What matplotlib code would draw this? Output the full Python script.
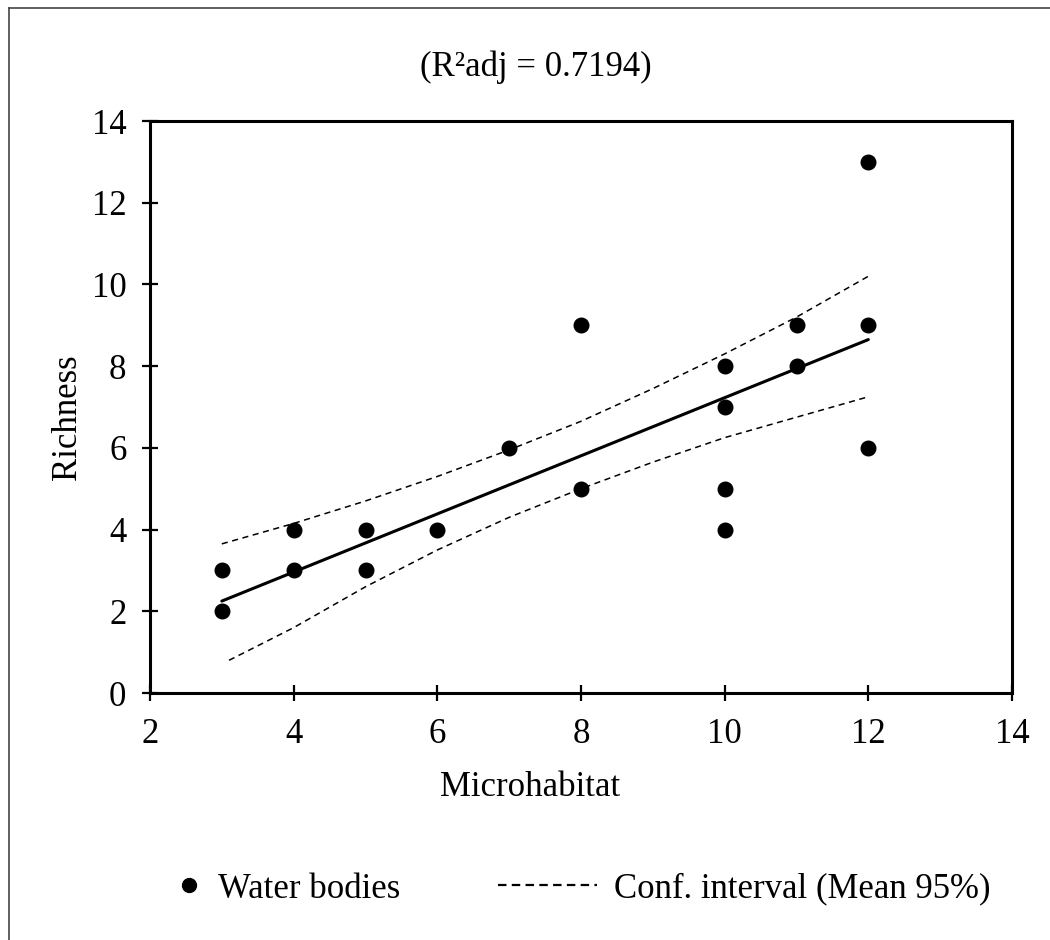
import matplotlib.pyplot as plt
from matplotlib.lines import Line2D

# observed water bodies
micro = [3, 3, 4, 4, 5, 5, 6, 7, 8, 8, 10, 10, 10, 10, 11, 11, 12, 12, 12]
richness = [3, 2, 4, 3, 4, 3, 4, 6, 9, 5, 8, 7, 5, 4, 9, 8, 13, 9, 6]

# fitted line (end points)
fit_x = [3, 12]
fit_y = [2.25, 8.65]

# 95% confidence band for the mean
ci_up_x = [3, 4, 5, 6, 7, 8, 9, 10, 11, 12]
ci_up_y = [3.65, 4.15, 4.7, 5.3, 5.95, 6.65, 7.45, 8.3, 9.2, 10.2]
ci_lo_x = [3.1, 4, 5, 6, 7, 8, 9, 10, 11, 12]
ci_lo_y = [0.8, 1.6, 2.6, 3.5, 4.3, 5.0, 5.65, 6.25, 6.75, 7.25]

legend_labels = ['Water bodies', 'Conf. interval (Mean 95%)']

plt.rcParams['font.family'] = ['Liberation Serif', 'DejaVu Serif']
FS = 25

W, H = 1050, 940
fig = plt.figure(figsize=(W / 100, H / 100), dpi=100)
ax = fig.add_axes([150 / W, 1 - 693 / H, 862 / W, 572 / H])

ax.scatter(micro, richness, s=110, color='black', zorder=3)
ax.plot(fit_x, fit_y, color='black', lw=2.2, solid_capstyle='round')
ax.plot(ci_up_x, ci_up_y, color='black', lw=1.1, dashes=(4, 3))
ax.plot(ci_lo_x, ci_lo_y, color='black', lw=1.1, dashes=(4, 3))

ax.set_xlim(2, 14)
ax.set_ylim(0, 14)
ax.set_xticks(range(2, 15, 2))
ax.set_yticks(range(0, 15, 2))
ax.tick_params(direction='inout', length=12, width=1.6, labelsize=FS)
ax.tick_params(axis='x', pad=12)
ax.tick_params(axis='y', pad=11)
for s in ax.spines.values():
    s.set_linewidth(2.2)

ax.set_xlabel('Microhabitat', fontsize=FS)
ax.set_ylabel('Richness', fontsize=FS)
ax.xaxis.set_label_coords((530 - 150) / 862, -(771 - 693) / 572)
ax.yaxis.set_label_coords(-(150 - 84) / 862, (693 - 417) / 572)

fig.text(536 / W, 1 - 67 / H, '(R²adj = 0.7194)', fontsize=FS,
         ha='center', va='center')

# legend, laid out by hand in figure pixels
ly = 1 - 885 / H
fig.add_artist(Line2D([189 / W], [ly], marker='o', ls='none', color='black',
                      markersize=10))
fig.text(218 / W, ly, legend_labels[0], fontsize=FS, va='center_baseline')
fig.add_artist(Line2D([498 / W, 597 / W], [ly, ly], color='black', lw=1.6,
                      dashes=(3.8, 2.4)))
fig.text(614 / W, ly, legend_labels[1], fontsize=FS, va='center_baseline')

# frame lines at top and left of the figure
fig.add_artist(Line2D([9 / W, 9 / W], [0, 1 - 8 / H], color='#444444', lw=1.2))
fig.add_artist(Line2D([9 / W, 1], [1 - 8 / H, 1 - 8 / H], color='#444444', lw=1.2))

fig.savefig('out.png', dpi=100)
